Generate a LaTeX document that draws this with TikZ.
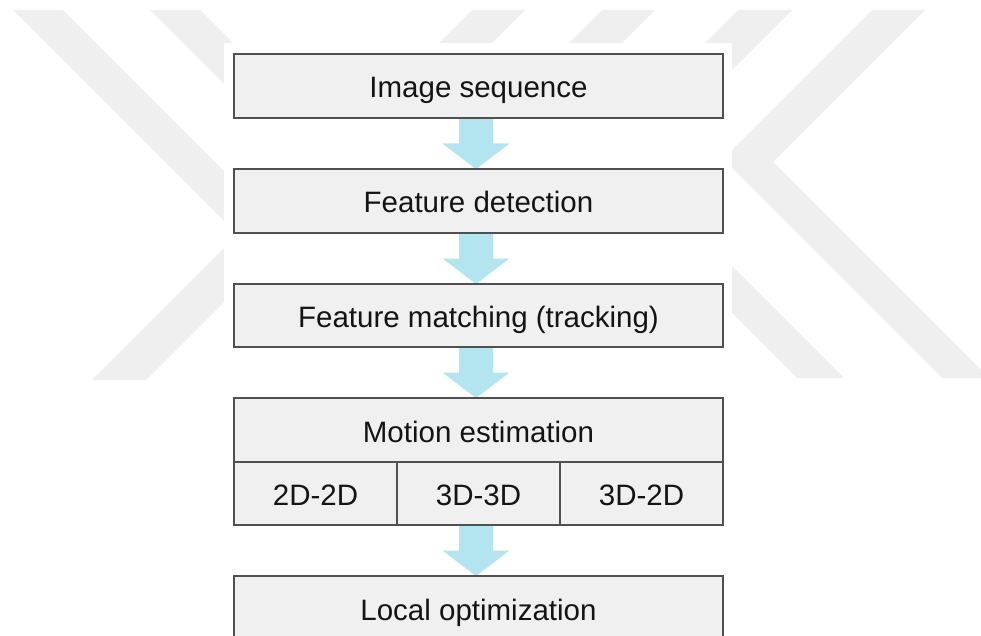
\documentclass[tikz,border=0pt]{standalone}
\usepackage{fontspec}
\setmainfont{Liberation Sans}
\usetikzlibrary{calc}

\definecolor{boxfill}{RGB}{240,240,240}
\definecolor{boxline}{RGB}{80,80,80}
\definecolor{flowcyan}{RGB}{179,229,240}
\definecolor{markgray}{RGB}{239,239,239}
\definecolor{inktext}{RGB}{20,20,20}

\pgfdeclarelayer{bg}
\pgfdeclarelayer{arrowlayer}
\pgfsetlayers{bg,arrowlayer,main}

\tikzset{
  stage/.style={draw=boxline, fill=boxfill, line width=1.4pt,
    minimum width=489pt, minimum height=64pt, inner sep=0pt, outer sep=0pt,
    text=inktext, font=\fontsize{29.5}{30}\selectfont,
    text height=24pt, text depth=0pt},
  subcell/.style={stage, minimum width=163pt, minimum height=63pt},
  flow/.style={fill=flowcyan, draw=none},
  wmark/.style={fill=markgray, draw=none},
}

% thick downward block arrow from the bottom of #1 to the top of #2
\newcommand\downflow[2]{%
  \coordinate (fa) at ($(#1.south)+(-2.5,0)$);
  \coordinate (fb) at ($(#2.north)+(-2.5,0)$);
  \fill[flow] ($(fa)+(-17,0)$) -- ($(fa)+(17,0)$)
    -- ($(fa)!0.5!(fb)+(17,0)$) -- ($(fa)!0.5!(fb)+(33.5,0)$)
    -- (fb)
    -- ($(fa)!0.5!(fb)+(-33.5,0)$) -- ($(fa)!0.5!(fb)+(-17,0)$) -- cycle;
}

\begin{document}
\begin{tikzpicture}[x=1pt,y=-1pt]
\useasboundingbox (0,0) rectangle (981,636);

\begin{pgfonlayer}{bg}
  % faint striped emblem in the background
  \fill[wmark] (13,10) -- (63,10) -- (289.5,236.5) -- (146,380) -- (92,380) -- (237.5,234.5) -- cycle;
  \fill[wmark] (150,10) -- (200,10) -- (300,110) -- (250,110) -- cycle;
  \fill[wmark] (472,10) -- (525,10) -- (477,58) -- (424,58) -- cycle;
  \fill[wmark] (602,10) -- (655,10) -- (607,58) -- (554,58) -- cycle;
  \fill[wmark] (738,10) -- (792,10) -- (634,168) -- (844,378) -- (797,378) -- (583.5,164.5) -- cycle;
  \fill[wmark] (872,10) -- (925,10) -- (773,162) -- (989,378) -- (942,378) -- (723,159) -- cycle;
  % white sheet behind the flow chart
  \fill[white] (224,43) rectangle (732,640);
\end{pgfonlayer}

\node[stage] (seq) at (478.5,86) {Image sequence};
\node[stage] (det) at (478.5,201) {Feature detection};
\node[stage, minimum height=63pt] (match) at (478.5,315.5) {Feature matching (tracking)};
\node[stage] (motion) at (478.5,430) {Motion estimation};
\node[subcell] (m22) at (315.5,493.5) {2D-2D};
\node[subcell] (m33) at (478.5,493.5) {3D-3D};
\node[subcell] (m32) at (641.5,493.5) {3D-2D};
\node[stage] (opt) at (478.5,608) {Local optimization};

\begin{pgfonlayer}{arrowlayer}
  \downflow{seq}{det}
  \downflow{det}{match}
  \downflow{match}{motion}
  \downflow{m33}{opt}
\end{pgfonlayer}
\end{tikzpicture}
\end{document}
